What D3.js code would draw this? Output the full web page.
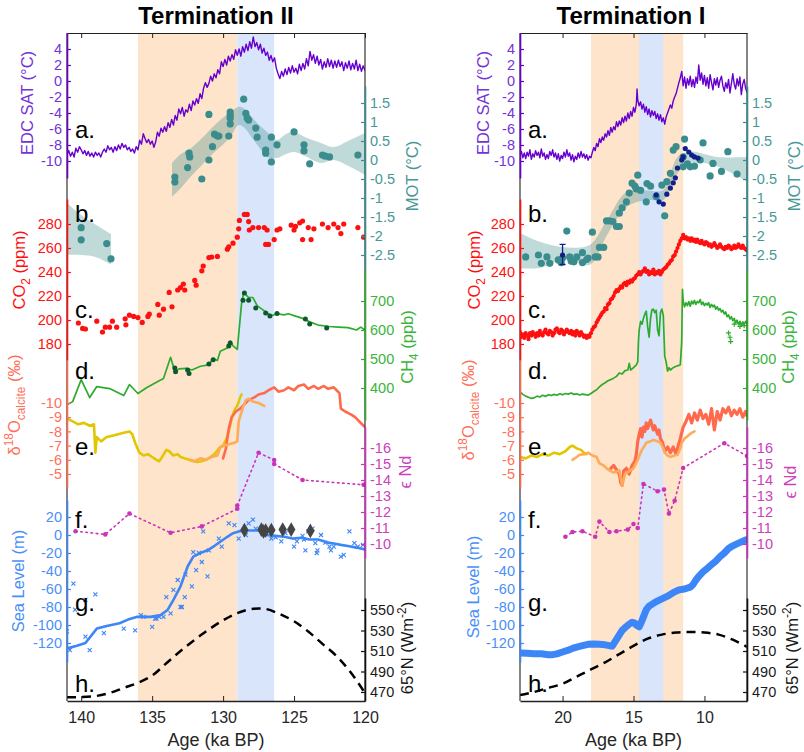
<!DOCTYPE html>
<html>
<head>
<meta charset="utf-8">
<script src="https://cdn.jsdelivr.net/npm/d3@7"></script>
<style>
  html, body { margin: 0; padding: 0; background: #fff; }
  svg { display: block; font-family: "Liberation Sans", Arial, "DejaVu Sans", sans-serif; }
</style>
</head>
<body>
<svg id="chart" width="804" height="752"></svg>
<script>
// ---------------------------------------------------------------
// Data: [age (ka BP), value] unless noted
// ---------------------------------------------------------------
const ageTicksII = [140, 135, 130, 125, 120];
const ageTicksI = [20, 15, 10];

const satTicks = [-10, -8, -6, -4, -2, 0, 2, 4];
const motTicks = [-2.5, -2, -1.5, -1, -0.5, 0, 0.5, 1, 1.5];
const co2Ticks = [180, 200, 220, 240, 260, 280];
const ch4Ticks = [400, 500, 600, 700];
const d18oTicks = [-10, -9, -8, -7, -6, -5];
const endTicks = [-16, -15, -14, -13, -12, -11, -10];
const seaTicks = [-120, -100, -80, -60, -40, -20, 0, 20];
const insTicks = [470, 490, 510, 530, 550];

// shaded intervals [older, younger]
const stadialII = [136, 129];
const warmII = [129, 126.4];
const stadialI = [18, 11.5];
const warmI = [14.6, 12.9];

// a. EDC surface air temperature (°C)
const satII = [[141,-9.2],[140.875,-8.7],[140.75,-9.4],[140.625,-8.9],[140.5,-9.5],[140.375,-8.4],[140.25,-8.9],[140.125,-8.2],[140,-8.6],[139.875,-9.1],[139.75,-8.7],[139.625,-9.3],[139.5,-8.8],[139.375,-9.4],[139.25,-9.0],[139.125,-9.5],[139,-8.9],[138.875,-9.3],[138.75,-9.0],[138.625,-9.5],[138.5,-8.9],[138.375,-8.5],[138.25,-8.9],[138.125,-8.1],[138,-8.6],[137.875,-8.3],[137.75,-8.9],[137.625,-8.2],[137.5,-8.7],[137.375,-8.0],[137.25,-8.5],[137.125,-7.8],[137,-8.3],[136.875,-8.0],[136.75,-8.6],[136.625,-8.3],[136.5,-8.8],[136.375,-8.5],[136.25,-9.0],[136.125,-8.2],[136,-8.6],[135.875,-7.4],[135.75,-7.9],[135.625,-6.6],[135.5,-7.2],[135.375,-7.7],[135.25,-7.3],[135.125,-7.9],[135,-7.5],[134.875,-8.3],[134.75,-7.6],[134.625,-6.4],[134.5,-6.9],[134.375,-5.9],[134.25,-6.4],[134.125,-5.7],[134,-6.3],[133.875,-5.2],[133.75,-5.8],[133.625,-4.8],[133.5,-5.5],[133.375,-4.3],[133.25,-4.9],[133.125,-3.5],[133,-4.1],[132.875,-3.3],[132.75,-4.4],[132.625,-3.6],[132.5,-3.9],[132.375,-2.9],[132.25,-3.7],[132.125,-2.5],[132,-3.0],[131.875,-2.2],[131.75,-2.8],[131.625,-1.6],[131.5,-2.2],[131.375,-0.9],[131.25,-0.2],[131.125,-0.8],[131,-0.3],[130.875,0.6],[130.75,0.0],[130.625,0.9],[130.5,0.4],[130.375,1.4],[130.25,0.9],[130.125,2.4],[130,1.8],[129.875,2.7],[129.75,2.0],[129.625,3.1],[129.5,2.5],[129.375,3.3],[129.25,2.7],[129.125,3.9],[129,3.2],[128.875,4.0],[128.75,3.1],[128.625,4.3],[128.5,3.6],[128.375,4.6],[128.25,3.8],[128.125,4.9],[128,4.1],[127.875,5.5],[127.75,4.3],[127.625,4.8],[127.5,3.9],[127.375,4.6],[127.25,3.5],[127.125,4.1],[127,3.2],[126.875,3.6],[126.75,2.6],[126.625,3.2],[126.5,2.4],[126.375,2.9],[126.25,1.6],[126.125,0.9],[126,0.3],[125.875,1.2],[125.75,0.6],[125.625,1.5],[125.5,0.8],[125.375,1.7],[125.25,1.0],[125.125,1.9],[125,1.1],[124.875,1.6],[124.75,0.9],[124.625,2.1],[124.5,1.3],[124.375,2.2],[124.25,1.5],[124.125,2.8],[124,1.9],[123.875,3.7],[123.75,2.6],[123.625,3.3],[123.5,2.2],[123.375,3.1],[123.25,2.0],[123.125,2.7],[123,1.5],[122.875,2.4],[122.75,1.7],[122.625,2.8],[122.5,1.8],[122.375,2.6],[122.25,1.6],[122.125,2.5],[122,1.7],[121.875,2.6],[121.75,1.8],[121.625,2.4],[121.5,1.3],[121.375,2.3],[121.25,1.6],[121.125,2.5],[121,1.4],[120.875,2.2],[120.75,1.5],[120.625,2.6],[120.5,1.3],[120.375,2.1],[120.25,1.2],[120.125,1.9],[120,1.3]];
const satI = [[23,-9.3],[22.9,-8.8],[22.8,-9.6],[22.7,-9.0],[22.6,-9.7],[22.5,-8.9],[22.4,-9.4],[22.3,-8.6],[22.2,-9.8],[22.1,-9.1],[22,-9.5],[21.9,-8.7],[21.8,-9.3],[21.7,-8.9],[21.6,-9.6],[21.5,-8.5],[21.4,-9.4],[21.3,-9.0],[21.2,-9.8],[21.1,-9.2],[21,-9.7],[20.9,-8.8],[20.8,-9.3],[20.7,-8.6],[20.6,-9.5],[20.5,-9.0],[20.4,-9.8],[20.3,-9.1],[20.2,-10.0],[20.1,-9.3],[20,-9.7],[19.9,-8.9],[19.8,-9.5],[19.7,-8.6],[19.6,-9.4],[19.5,-9.0],[19.4,-9.9],[19.3,-9.2],[19.2,-10.1],[19.1,-9.4],[19,-9.8],[18.9,-9.0],[18.8,-9.6],[18.7,-8.8],[18.6,-9.5],[18.5,-9.1],[18.4,-9.7],[18.3,-9.2],[18.2,-9.9],[18.1,-9.4],[18,-9.6],[17.9,-8.9],[17.8,-8.3],[17.7,-8.7],[17.6,-7.8],[17.5,-8.2],[17.4,-7.2],[17.3,-7.7],[17.2,-7.0],[17.1,-7.4],[17,-6.6],[16.9,-7.0],[16.8,-6.2],[16.7,-6.8],[16.6,-5.8],[16.5,-6.4],[16.4,-5.7],[16.3,-6.1],[16.2,-5.1],[16.1,-5.7],[16,-5.0],[15.9,-5.5],[15.8,-4.6],[15.7,-5.2],[15.6,-4.4],[15.5,-5.0],[15.4,-4.0],[15.3,-4.7],[15.2,-3.8],[15.1,-4.4],[15,-3.3],[14.9,-3.9],[14.8,-2.9],[14.75,-1.0],[14.7,-2.4],[14.6,-3.1],[14.5,-2.6],[14.4,-3.5],[14.3,-2.9],[14.2,-3.9],[14.1,-3.2],[14,-4.2],[13.9,-3.5],[13.8,-4.5],[13.7,-3.7],[13.6,-4.3],[13.5,-3.8],[13.4,-4.7],[13.3,-4.1],[13.2,-4.9],[13.1,-4.2],[13,-5.1],[12.9,-4.6],[12.8,-5.4],[12.7,-4.5],[12.6,-4.0],[12.5,-3.5],[12.4,-3.0],[12.3,-3.4],[12.2,-2.5],[12.1,-2.0],[12,-1.6],[11.9,-0.9],[11.8,-0.2],[11.7,0.4],[11.6,1.2],[11.5,-0.6],[11.4,0.5],[11.3,-0.9],[11.2,0.3],[11.1,-0.5],[11,0.6],[10.9,-0.7],[10.8,0.2],[10.7,-0.8],[10.6,0.5],[10.5,-0.3],[10.4,2.0],[10.3,0.1],[10.2,1.0],[10.1,-0.4],[10,0.7],[9.9,-0.6],[9.8,0.4],[9.7,-0.9],[9.6,0.8],[9.5,-0.2],[9.4,-1.1],[9.3,0.3],[9.2,-0.5],[9.1,0.4],[9,-0.8],[8.9,0.1],[8.8,0.6],[8.7,-0.6],[8.6,-1.3],[8.5,-0.2],[8.4,-0.9],[8.3,0.2],[8.2,-1.5],[8.1,-0.3],[8,0.9],[7.9,-0.4],[7.8,-1.0],[7.7,0.3],[7.6,-0.6],[7.5,0.5],[7.4,-1.7],[7.3,-0.4],[7.2,0.2],[7.1,-0.9],[7,-1.4]];

// b. mean ocean temperature (°C); bands are [age, lower, upper]
const motII = [[140,-1.78],[140,-2.1],[138.2,-2.2],[137.9,-2.6],[133.4,-0.45],[133.4,-0.58],[132.5,-0.2],[132.4,0.18],[132.35,0.08],[131.5,-0.5],[131.0,1.2],[131.0,0.0],[130.75,0.35],[130.6,0.68],[130.4,0.63],[130.3,0.63],[129.6,0.63],[129.5,1.26],[129.5,1.18],[129.5,1.1],[129.5,0.95],[128.55,1.6],[128.4,1.23],[128.3,1.1],[128.2,1.05],[127.7,0.84],[127.6,0.6],[127.0,0.26],[127.0,0.18],[126.6,0.6],[126.6,-0.05],[126.2,0.4],[125.0,0.74],[124.3,0.4],[124.3,0.24],[123.9,-0.1],[123.0,0.13],[122.8,0.1],[122.5,0.08],[120.5,0.13]];
const motBandII_early = [[141,-2.5,-1.13],[140,-2.5,-1.45],[139,-2.55,-1.7],[137.9,-2.75,-1.95]];
const motBandII = [[133.6,-0.97,-0.08],[133,-0.75,0.15],[132.3,-0.45,0.3],[131.6,-0.18,0.53],[130.9,0.1,0.8],[130.2,0.34,1.05],[129.5,0.6,1.25],[128.9,0.92,1.4],[128.5,0.85,1.35],[127.9,0.55,1.1],[127.4,0.3,0.9],[126.9,0.08,0.74],[126.2,0.05,0.53],[125.6,0.15,0.68],[125,0.21,0.74],[124.2,0.1,0.6],[123.1,-0.08,0.45],[122.2,0,0.34],[121.2,-0.15,0.5],[120,-0.39,0.71]];
const motI = [[22.6,-2.55],[21.7,-2.5],[21.5,-2.72],[21.1,-2.55],[20.9,-2.72],[20.3,-2.63],[20.1,-2.7],[20.0,-2.58],[19.7,-1.87],[19.5,-2.55],[19.4,-2.66],[19.2,-2.68],[19.0,-2.55],[18.6,-2.44],[18.6,-2.7],[18.3,-2.62],[18.2,-2.58],[17.9,-1.9],[17.7,-2.55],[17.5,-2.55],[17.4,-2.3],[17.1,-2.3],[16.9,-1.6],[16.7,-1.6],[16.45,-1.62],[16.2,-1.75],[16.0,-1.75],[16.0,-1.4],[15.8,-1.26],[15.5,-1.1],[15.3,-0.87],[15.1,-0.61],[14.9,-0.69],[14.8,-0.76],[14.7,-0.4],[14.5,-0.8],[14.1,-1.1],[14.05,-0.62],[13.8,-0.69],[13.4,-0.96],[13.0,-0.66],[12.8,-1.47],[12.65,-0.57],[12.4,-0.35],[12.2,0.26],[12.0,0.35],[11.5,0.08],[11.5,-0.18],[11.4,0.55],[11.2,-0.1],[11.0,-0.18],[10.7,-0.16],[10.3,0.0],[10.1,0.45],[9.6,-0.42],[9.4,-0.09],[8.8,-0.3],[8.35,0.22],[7.7,-0.37]];
const motNavyI = [[20.0,-2.5],[13.4,-0.92],[13.2,-1.1],[12.9,-1.16],[12.65,-0.9],[12.4,-0.74],[12.2,-0.6],[12.05,-0.47],[11.9,-0.21],[11.6,0.0],[11.5,0.08],[11.35,0.3],[11.1,0.21],[10.9,0.13],[10.7,0.08],[10.45,0.05]];
const motNavyErrI = [[20.0,-2.75,-2.22]];
const motBandI = [[23,-2.85,-1.92],[21.6,-2.84,-2.15],[19.7,-2.6,-2.3],[18.1,-2.76,-2.24],[16.9,-2.0,-1.6],[15.5,-1.24,-0.84],[14.1,-1.05,-0.8],[12.9,-1.05,-0.79],[11.9,-0.35,0.08],[11,-0.08,0.22],[9.1,-0.17,0.08],[7,-0.57,0.08]];

// c. atmospheric CO2 (ppm)
const co2II = [[140.2,197.5],[139.9,193],[139.7,192.5],[138.9,199],[138.5,190],[138.3,194],[138,194],[137.8,199],[137.5,194],[136.9,201],[136.85,196],[136.6,204],[136.3,203],[136,202],[135.7,198],[135.3,203],[135.2,205],[134.6,213],[134.5,204],[134.2,209],[133.8,223],[133.6,211],[133.2,225],[133,227],[132.8,230],[132.7,225],[132.0,233],[131.9,229],[131.5,241],[131.4,245],[131.0,252],[130.8,252.5],[130.4,253],[129.7,259],[129.6,261],[129.3,264],[129.0,269],[128.9,276],[128.85,283],[128.5,288],[128.3,288],[128.2,282],[128.15,275],[127.9,277],[127.5,277],[127.1,277],[126.9,275],[127.0,263],[126.8,263],[126.4,267],[126.2,275],[126.0,276],[125.2,279],[125.0,275],[124.9,278],[124.6,281],[124.4,282.5],[124.4,267],[124.0,277],[123.8,267],[123.6,276],[123.0,280],[122.6,277],[122.2,280],[121.9,277],[121.7,272],[121.5,280],[120.5,277],[120.1,269]];
const co2I = [[23,190],[22.9,186],[22.8,188],[22.7,185],[22.6,189],[22.5,187],[22.4,184],[22.3,189],[22.2,187],[22.1,190],[22,188],[21.9,186],[21.8,189],[21.7,187],[21.6,191],[21.5,188],[21.4,187],[21.3,190],[21.2,192],[21.1,189],[21,188],[20.9,191],[20.8,190],[20.7,187],[20.6,189],[20.5,192],[20.4,193],[20.3,190],[20.2,189],[20.1,192],[20,191],[19.9,188],[19.8,190],[19.7,192],[19.6,190],[19.5,189],[19.4,191],[19.3,188],[19.2,190],[19.1,187],[19,191],[18.9,189],[18.8,187],[18.7,190],[18.6,188],[18.5,186],[18.4,187],[18.3,185],[18.2,187],[18.1,186],[18,189],[17.9,192],[17.8,194],[17.7,195],[17.6,198],[17.5,200],[17.4,202],[17.3,204],[17.2,206],[17.1,207],[17,210],[16.9,209],[16.8,213],[16.7,214],[16.6,217],[16.5,218],[16.4,220],[16.3,223],[16.2,225],[16.1,224],[16,226],[15.9,228],[15.8,227],[15.7,230],[15.6,231],[15.5,229],[15.4,232],[15.3,231],[15.2,233],[15.1,232],[15,234],[14.9,235],[14.8,237],[14.7,238],[14.6,240],[14.5,238],[14.4,240],[14.3,241],[14.2,243],[14.1,240],[14,241],[13.9,238],[13.8,240],[13.7,239],[13.6,242],[13.5,238],[13.4,240],[13.3,239],[13.2,241],[13.1,238],[13,240],[12.9,242],[12.8,243],[12.7,244],[12.6,246],[12.5,247],[12.4,249],[12.3,250],[12.2,253],[12.1,254],[12,257],[11.9,260],[11.8,263],[11.7,266],[11.6,268],[11.5,271],[11.4,268],[11.3,269],[11.2,267],[11.1,268],[11,266],[10.9,268],[10.8,266],[10.7,267],[10.6,265],[10.5,267],[10.4,265],[10.3,264],[10.2,266],[10.1,264],[10,263],[9.9,265],[9.8,264],[9.7,262],[9.6,263],[9.5,261],[9.4,262],[9.3,264],[9.2,262],[9.1,260],[9,261],[8.9,263],[8.8,261],[8.7,260],[8.6,259],[8.5,261],[8.4,260],[8.3,262],[8.2,261],[8.1,259],[8,260],[7.9,262],[7.8,260],[7.7,261],[7.6,263],[7.5,261],[7.4,260],[7.3,262],[7.2,260],[7.1,259],[7,258]];

// d. atmospheric CH4 (ppb)
const ch4II = [[141,342],[140.6,353],[140,429],[139.4,367],[138.9,405],[138,398],[137,374],[136.6,412],[136,381],[135.4,401],[134.6,422],[134.2,433],[133.7,506],[133.4,457],[133.1,466],[132.6,468],[132.2,462],[131.6,475],[131,480],[130.7,502],[130.4,495],[130.2,527],[129.7,538],[129.5,562],[129.3,545],[129,533],[128.7,690],[128.55,729],[128.2,712],[127.9,712],[127.6,684],[127.1,666],[126.6,649],[126.2,656],[125.7,652],[125.4,656],[124.9,648],[124.5,642],[123.9,628],[123.3,617],[122.5,612],[121.9,610],[121.2,608],[120.6,600],[120.3,610],[120,600]];
const ch4DotsII = [[133.4,469],[133.35,456],[132.5,462],[132.4,450],[131.0,483],[130.7,497],[129.6,545],[129.5,555],[128.5,728],[128.6,703],[128.2,703],[127.7,676],[127.0,659],[126.7,648],[126.2,657],[124.2,638],[123.9,621],[122.7,607]];
const ch4I = [[23,387],[22.8,378],[22.6,372],[22.4,368],[22.2,364],[22,366],[21.8,372],[21.6,369],[21.4,375],[21.2,371],[21,377],[20.8,374],[20.6,378],[20.4,375],[20.2,380],[20,377],[19.8,381],[19.6,379],[19.4,383],[19.2,378],[19,380],[18.8,376],[18.6,379],[18.4,377],[18.2,375],[18,381],[17.8,388],[17.6,394],[17.4,404],[17.2,412],[17,418],[16.8,425],[16.6,429],[16.4,434],[16.2,440],[16,452],[15.8,448],[15.6,460],[15.4,462],[15.3,485],[15.2,462],[15,470],[14.8,480],[14.7,490],[14.65,560],[14.6,600],[14.5,630],[14.4,620],[14.3,640],[14.2,655],[14.1,665],[14.0,610],[13.9,575],[13.8,640],[13.7,670],[13.6,672],[13.5,660],[13.4,668],[13.3,600],[13.2,580],[13.1,660],[13.0,672],[12.9,650],[12.8,510],[12.7,490],[12.6,458],[12.5,470],[12.4,462],[12.2,470],[12,475],[11.8,478],[11.7,480],[11.6,560],[11.55,740],[11.5,700],[11.4,680],[11.3,694],[11.2,684],[11.1,698],[11.0,682],[10.9,700],[10.8,690],[10.7,702],[10.6,688],[10.5,699],[10.4,694],[10.3,705],[10.2,688],[10.1,696],[10,684],[9.9,692],[9.8,686],[9.7,694],[9.6,678],[9.5,688],[9.4,680],[9.3,686],[9.2,672],[9.1,680],[9.0,668],[8.9,674],[8.8,662],[8.7,668],[8.6,655],[8.5,662],[8.4,646],[8.3,652],[8.2,638],[8.1,646],[8.0,632],[7.9,640],[7.8,624],[7.7,634],[7.6,618],[7.5,630],[7.4,615],[7.3,628],[7.2,618],[7.1,630],[7.0,622]];
const ch4PlusI = [[8.3,590],[8.2,575],[8.15,560],[7.9,620],[7.5,612],[7.2,615]];

// e. speleothem d18O calcite (permil), three records
const d18oYellowII = [[141,-8.9],[140.6,-8.7],[140.2,-8.5],[139.8,-8.6],[139.4,-8.4],[139.1,-8.5],[139.0,-6.5],[138.9,-7.6],[138.6,-7.3],[138.2,-7.6],[137.8,-7.7],[137.4,-7.8],[137.0,-7.9],[136.6,-8.0],[136.4,-7.8],[136.2,-7.2],[135.9,-6.5],[135.6,-6.3],[135.3,-6.4],[135.0,-6.2],[134.7,-6.0],[134.5,-5.9],[134.3,-6.2],[134.0,-6.7],[133.8,-6.6],[133.5,-6.3],[133.2,-6.4],[133,-6.2],[132.7,-6.1],[132.4,-6.0],[132.1,-5.9],[131.8,-5.85],[131.5,-5.9],[131.2,-6.0],[130.9,-6.2],[130.6,-6.4],[130.3,-6.8],[130.0,-7.0],[129.8,-7.4],[129.6,-8.0],[129.4,-8.9],[129.2,-9.5],[129,-9.8],[128.8,-10.4],[128.7,-10.6]];
const d18oTomatoII = [[130.0,-6.1],[129.8,-6.8],[129.6,-8.2],[129.4,-9.0],[129.1,-9.4],[128.8,-9.6],[128.5,-9.9],[128.2,-10.2],[127.8,-10.4],[127.5,-10.6],[127.1,-10.7],[126.8,-10.9],[126.4,-11.1],[126.1,-10.8],[125.7,-10.9],[125.4,-11.1],[125,-10.9],[124.7,-11.2],[124.3,-11.3],[124,-11.0],[123.6,-11.2],[123.3,-11.0],[122.9,-11.2],[122.6,-11.0],[122.2,-11.1],[122,-10.9],[121.8,-10.7],[121.7,-9.6],[121.4,-9.4],[121,-9.2],[120.7,-9.0],[120.4,-8.7],[120.1,-8.4],[120,-8.3]];
const d18oOrangeII = [[132.3,-6.0],[132,-5.9],[131.6,-6.1],[131.2,-6.0],[130.8,-6.2],[130.4,-6.3],[130.2,-6.9],[129.9,-7.0],[129.6,-7.1],[129.2,-7.2],[129.0,-7.3],[128.9,-8.7],[128.6,-9.7],[128.4,-10.2],[128.2,-10.3],[127.9,-10.1],[127.5,-10.0],[127.1,-9.8]];
const d18oYellowI = [[23,-6.2],[22.6,-6.1],[22.2,-6.3],[21.8,-6.2],[21.4,-6.4],[21.0,-6.3],[20.6,-6.5],[20.2,-6.4],[19.8,-6.6],[19.5,-6.9],[19.3,-7.0],[19.0,-6.8],[18.7,-6.7],[18.5,-6.5],[18.3,-6.4]];
const d18oOrangeI = [[19.3,-6.0],[19.0,-6.2],[18.8,-6.35],[18.4,-6.4],[18.2,-6.5],[17.9,-6.3],[17.6,-6.2],[17.4,-5.75],[17.1,-5.6],[16.9,-5.4],[16.6,-5.2],[16.4,-5.1],[16.0,-5.25],[15.8,-4.2],[15.6,-5.0],[15.3,-5.2],[15.0,-5.4],[14.8,-5.8],[14.7,-6.0],[14.5,-6.5],[14.4,-6.7],[14.1,-7.2],[13.8,-7.3],[13.6,-7.4],[13.3,-7.3],[13.1,-7.2],[12.9,-6.8],[12.8,-6.5],[12.6,-6.3],[12.4,-6.2],[12.1,-6.3],[11.9,-6.35],[11.7,-6.8],[11.6,-7.2],[11.4,-7.5],[11.2,-7.65],[10.9,-7.9],[10.7,-8.0]];
const d18oTomatoI = [[16.6,-5.4],[16.4,-5.6],[16.2,-5.3],[16.0,-5.0],[15.9,-4.4],[15.8,-4.2],[15.7,-5.2],[15.5,-5.4],[15.3,-5.0],[15.1,-5.6],[14.9,-5.9],[14.8,-6.4],[14.7,-7.3],[14.6,-7.8],[14.5,-8.2],[14.4,-7.6],[14.3,-8.3],[14.2,-8.0],[14.1,-8.6],[14.0,-8.2],[13.9,-8.5],[13.8,-8.8],[13.6,-8.1],[13.5,-8.4],[13.3,-7.8],[13.2,-8.1],[13.1,-7.5],[12.95,-7.2],[12.8,-6.6],[12.6,-6.9],[12.4,-6.5],[12.2,-6.9],[12.0,-6.4],[11.9,-6.8],[11.7,-7.5],[11.5,-8.3],[11.3,-8.7],[11.1,-9.2],[10.9,-8.6],[10.7,-9.3],[10.5,-8.8],[10.3,-9.5],[10.1,-8.9],[9.9,-9.2],[9.7,-8.5],[9.5,-9.6],[9.3,-8.1],[9.1,-9.4],[8.9,-8.8],[8.7,-9.6],[8.5,-9.3],[8.3,-9.7],[8.1,-9.1],[7.9,-9.5],[7.7,-9.2],[7.5,-9.6],[7.3,-9.0],[7.1,-9.4],[7,-9.1]];

// f. epsilon Nd
const endII = [[140.4,-10.8],[138.3,-10.6],[136.6,-11.9],[133.7,-10.7],[131.5,-11.1],[129,-12.2],[129,-12.4],[127.5,-15.7],[126.4,-15.25],[126.4,-15.0],[124.4,-14.0],[120.1,-13.7]];
const endI = [[19.8,-10.45],[19.3,-10.75],[18.6,-10.8],[17.7,-10.45],[17.4,-11.4],[16.7,-10.75],[16.2,-10.8],[15.4,-10.9],[15.0,-11.25],[14.7,-11.0],[14.3,-13.75],[13.3,-13.3],[12.85,-13.4],[12.5,-11.9],[12.1,-12.7],[11.5,-14.75],[8.6,-16.3],[7,-15.5]];

// g. relative sea level (m)
const seaLineII = [[141,-126],[140.3,-123],[139.7,-120],[138.9,-104],[138.2,-101],[137.3,-98],[136.7,-94],[136.1,-91],[135.1,-91],[134.4,-89],[133.9,-83],[133.5,-72],[133,-57],[132.5,-35],[132.1,-24],[131.6,-20],[131.1,-17],[130.6,-12],[130.2,-7.5],[129.7,-2],[129.3,2],[128.9,4],[128.5,5],[127.9,5],[127.3,5],[126.9,0],[126.3,-1],[125.7,-2],[125.1,-4],[124.5,-3],[123.9,-5],[123.3,-5],[122.9,-7],[122.6,-8.5],[122.2,-9.5],[121.7,-11],[121.2,-12.3],[120.6,-14],[120,-16]];
const seaPtsII = [[141.0,-107],[140.8,-128],[140.55,-54],[140.43,-83],[139.7,-113],[139.7,-72],[139.4,-128],[139.0,-66],[138.4,-109],[137.0,-104],[136.2,-106],[135.8,-89],[135.6,-91],[135.0,-102],[134.8,-93],[134.7,-93],[134.5,-91],[134.2,-91],[134.0,-69],[133.7,-87],[133.5,-61],[133.2,-50],[133.0,-80],[132.9,-80],[132.7,-69],[132.65,-44],[132.2,-57],[132.1,-19],[131.9,-39],[131.7,-20],[131.5,-30],[131.4,4],[131.1,-46],[131.0,-17],[130.3,-4],[130.1,-13],[129.6,13],[129.2,11],[128.9,-4],[128.4,0],[128.2,13],[127.9,17],[127.7,7],[126.6,-4],[126.3,-2.5],[125.9,-7],[125.6,2],[125.0,-13],[124.8,-7],[124.4,-1],[124.3,-5],[124.2,-17],[124.0,4],[123.7,7],[123.5,-9],[123.4,-20],[123.35,-17],[123.1,0],[122.8,-8.5],[122.5,-13],[122.4,-17],[122.2,-13],[121.7,-24],[121.5,-22],[121.1,4],[120.75,-9],[120.5,-13],[120.15,-11]];
const seaDiamondsII = [[128.5,5.5],[127.3,6],[127.15,4],[127.0,5],[126.6,5.5],[125.8,6],[125.2,6],[123.85,4.5]];
const seaI = [[23,-131],[22.5,-131.5],[22,-132],[21.5,-132],[21,-133],[20.7,-133],[20.4,-132],[20,-130],[19.6,-128],[19.3,-126],[19,-124.5],[18.6,-123],[18.2,-121.5],[17.8,-121],[17.4,-121.5],[17,-122],[16.7,-123],[16.5,-123.5],[16.4,-121],[16.2,-116],[16,-111],[15.8,-106],[15.6,-103],[15.3,-99],[15.1,-97],[14.9,-98],[14.8,-100],[14.6,-102],[14.45,-97],[14.3,-91],[14.1,-83],[13.9,-79],[13.6,-76],[13.4,-74],[13,-71],[12.6,-68],[12.2,-64],[11.8,-61],[11.4,-60],[11,-58],[10.8,-55],[10.6,-50],[10.4,-46],[10.1,-41],[9.8,-37],[9.5,-33],[9.2,-29],[8.9,-24],[8.6,-20],[8.3,-15],[8,-12],[7.6,-9],[7.3,-7],[7,-5]];

// h. 65°N summer insolation (W m-2)
const insII = [[141,465],[140,465],[139,466],[138,469],[137,474],[136,479],[135,486],[134,498],[133,510],[132,521],[131,531],[130,540],[129,547],[128,551],[127,551],[126,546],[125,539],[124,529],[123,517],[122,505],[121,489],[120,469]];
const insI = [[23,467],[22,470],[21,474],[20,478],[19,485],[18,492],[17,499],[16,507],[15,515],[14,522],[13,526],[12,528],[11,528.5],[10,528],[9,526],[8,521],[7,514]];

// ---------------------------------------------------------------
// Layout and styling
// ---------------------------------------------------------------
const TOP = 33, BOTTOM = 701;
const C = {
  peach: "#fde4cb", sky: "#d8e5fb",
  sat: "#6600cc", satText: "#7433d6",
  mot: "#3b8d8d", motText: "#479797", navy: "#10208a",
  co2: "#ff1010",
  ch4: "#2eab2e", ch4Text: "#3bb43b", ch4Dot: "#0c5a2c",
  tomato: "#ff6a4d", d18oText: "#ff6f5a", yellow: "#e2c600", orange: "#ffab57",
  end: "#cc33bb", endText: "#cc40bb",
  sea: "#3d86f7", seaText: "#4a8ff8",
  ink: "#1a1a1a"
};

// each stacked axis: two anchor values -> pixel rows, plus its drawn extent
const AX = {
  sat:  { v: [-10, 4],   y: [161, 49],  ext: [178, 33] },
  mot:  { v: [-2.5, 1.5], y: [255, 103], ext: [270, 86] },
  co2:  { v: [180, 280], y: [344, 224], ext: [360, 199] },
  ch4:  { v: [400, 700], y: [388, 301], ext: [420, 270] },
  d18o: { v: [-10, -5],  y: [403, 474], ext: [360, 488] },
  end:  { v: [-16, -10], y: [448, 544], ext: [427, 558] },
  sea:  { v: [-120, 20], y: [643, 517], ext: [662, 500] },
  ins:  { v: [470, 550], y: [692, 610], ext: [701, 598] }
};
function makeY(k) {
  const a = AX[k];
  const s = d3.scaleLinear().domain(a.v).range(a.y);
  return d3.scaleLinear().domain([s.invert(a.ext[0]), s.invert(a.ext[1])]).range(a.ext);
}
const Y = {};
Object.keys(AX).forEach(k => Y[k] = makeY(k));

const svg = d3.select("#chart");

function rotLabel(g, parts, cx, cy, color, fs) {
  const t = g.append("g")
    .attr("transform", `translate(${cx + 0.36 * fs},${cy}) rotate(-90)`)
    .append("text").attr("text-anchor", "middle").attr("fill", color).attr("font-size", fs);
  parts.forEach(p => {
    const sp = t.append("tspan").text(p.t);
    if (p.sub) sp.attr("font-size", fs * 0.72).attr("dy", fs * 0.3);
    if (p.sup) sp.attr("font-size", fs * 0.72).attr("dy", -fs * 0.42);
    if (p.back) sp.attr("dy", p.back);
  });
}

function yAxis(g, key, ticks, side, xPos, color, textColor) {
  const gen = (side === "left" ? d3.axisLeft(Y[key]) : d3.axisRight(Y[key]))
    .tickValues(ticks).tickSizeInner(-4).tickSizeOuter(0).tickPadding(5)
    .tickFormat(d => String(d));
  const a = g.append("g").attr("transform", `translate(${xPos},0)`).call(gen);
  a.attr("font-family", null).attr("font-size", 14.5);
  a.select(".domain").attr("stroke", color).attr("stroke-width", 1.6);
  a.selectAll(".tick line").attr("stroke", color).attr("stroke-width", 1.2);
  a.selectAll(".tick text").attr("fill", textColor);
  return a;
}

function drawPanel(P) {
  const x = d3.scaleLinear().domain(P.domain).range([P.x0, P.x1]);
  const root = svg.append("g");

  // shaded intervals
  root.append("rect").attr("x", x(P.stadial[0])).attr("y", TOP)
    .attr("width", x(P.stadial[1]) - x(P.stadial[0])).attr("height", BOTTOM - TOP).attr("fill", C.peach);
  root.append("rect").attr("x", x(P.warm[0])).attr("y", TOP)
    .attr("width", x(P.warm[1]) - x(P.warm[0])).attr("height", BOTTOM - TOP).attr("fill", C.sky);

  svg.append("clipPath").attr("id", "clip-" + P.id).append("rect")
    .attr("x", P.x0).attr("y", TOP).attr("width", P.x1 - P.x0).attr("height", BOTTOM - TOP);
  const plot = root.append("g").attr("clip-path", `url(#clip-${P.id})`);

  const line = (data, ys, color, w, curve) => plot.append("path").datum(data)
    .attr("fill", "none").attr("stroke", color).attr("stroke-width", w)
    .attr("stroke-linejoin", "round").attr("stroke-linecap", "round")
    .attr("d", d3.line().x(d => x(d[0])).y(d => ys(d[1])).curve(curve || d3.curveLinear));
  const dots = (data, ys, color, r) => plot.append("g").selectAll("circle").data(data).join("circle")
    .attr("cx", d => x(d[0])).attr("cy", d => ys(d[1])).attr("r", r).attr("fill", color);
  const band = (data, ys) => plot.append("path").datum(data)
    .attr("fill", C.mot).attr("fill-opacity", 0.32)
    .attr("d", d3.area().x(d => x(d[0])).y0(d => ys(d[1])).y1(d => ys(d[2])).curve(d3.curveCatmullRom));

  const S = P.series;
  // a. SAT
  line(S.sat, Y.sat, C.sat, 1.4);
  // b. MOT
  S.motBands.forEach(b => band(b, Y.mot));
  dots(S.mot, Y.mot, C.mot, 3.6);
  if (S.motNavy) {
    S.motNavyErr.forEach(e => {
      const xx = x(e[0]);
      plot.append("path").attr("stroke", C.navy).attr("stroke-width", 1.3).attr("fill", "none")
        .attr("d", `M${xx},${Y.mot(e[1])}V${Y.mot(e[2])}M${xx - 3},${Y.mot(e[1])}H${xx + 3}M${xx - 3},${Y.mot(e[2])}H${xx + 3}`);
    });
    dots(S.motNavy, Y.mot, C.navy, 2.6);
  }
  // c. CO2
  if (S.co2Line) line(S.co2, Y.co2, C.co2, 2.4);
  dots(S.co2, Y.co2, C.co2, S.co2Line ? 2.1 : 2.6);
  // d. CH4
  line(S.ch4, Y.ch4, C.ch4, 1.7);
  if (S.ch4Dots) dots(S.ch4Dots, Y.ch4, C.ch4Dot, 2.5);
  if (S.ch4Plus) plot.append("g").selectAll("path").data(S.ch4Plus).join("path")
    .attr("transform", d => `translate(${x(d[0])},${Y.ch4(d[1])})`)
    .attr("d", "M-2.5,0H2.5M0,-2.5V2.5").attr("stroke", C.ch4).attr("stroke-width", 1.2);
  // e. d18O
  line(S.d18oYellow, Y.d18o, C.yellow, 2.6);
  line(S.d18oTomato, Y.d18o, C.tomato, S.tomatoW);
  line(S.d18oOrange, Y.d18o, C.orange, 2.6);
  // f. eNd
  line(S.end, Y.end, C.end, 1.6).attr("stroke-dasharray", "1.6,3.6");
  dots(S.end, Y.end, C.end, 2.3);
  // g. sea level
  if (S.seaPts) plot.append("g").selectAll("path").data(S.seaPts).join("path")
    .attr("transform", d => `translate(${x(d[0])},${Y.sea(d[1])})`)
    .attr("d", "M-2,-2L2,2M-2,2L2,-2").attr("stroke", C.sea).attr("stroke-width", 1.1);
  line(S.sea, Y.sea, C.sea, S.seaW);
  if (S.seaDiamonds) plot.append("g").selectAll("path").data(S.seaDiamonds).join("path")
    .attr("transform", d => `translate(${x(d[0])},${Y.sea(d[1])})`)
    .attr("d", d3.symbol().type(d3.symbolDiamond).size(62)).attr("fill", "#454545");
  // h. insolation
  line(S.ins, Y.ins, "#000", 2.5, d3.curveCatmullRom).attr("stroke-dasharray", "9,6").attr("stroke-linecap", "butt");

  // frame
  const frame = root.append("g").attr("stroke", "#333").attr("stroke-width", 1.2).attr("fill", "none");
  frame.append("line").attr("x1", P.x0).attr("x2", P.x0).attr("y1", TOP).attr("y2", BOTTOM);
  frame.append("line").attr("x1", P.x1).attr("x2", P.x1).attr("y1", TOP).attr("y2", BOTTOM);

  const top = root.append("g").attr("transform", `translate(0,${TOP})`)
    .call(d3.axisTop(x).tickValues(P.ticks).tickSizeInner(-5).tickSizeOuter(0).tickFormat(() => ""));
  top.select(".domain").attr("stroke", "#222").attr("stroke-width", 1.2);
  top.selectAll(".tick line").attr("stroke", "#222");

  const bot = root.append("g").attr("transform", `translate(0,${BOTTOM})`)
    .call(d3.axisBottom(x).tickValues(P.ticks).tickSizeInner(-5).tickSizeOuter(0).tickPadding(11).tickFormat(d => String(d)));
  bot.attr("font-family", null).attr("font-size", 16);
  bot.select(".domain").attr("stroke", "#222").attr("stroke-width", 1.4);
  bot.selectAll(".tick line").attr("stroke", "#222");
  bot.selectAll(".tick text").attr("fill", "#262626");

  root.append("text").attr("x", (P.x0 + P.x1) / 2).attr("y", 746).attr("text-anchor", "middle")
    .attr("font-size", 18).attr("fill", "#262626").text("Age (ka BP)");

  // stacked y axes
  yAxis(root, "sat", satTicks, "left", P.x0, C.sat, C.satText);
  yAxis(root, "co2", co2Ticks, "left", P.x0, C.co2, C.co2);
  yAxis(root, "d18o", d18oTicks, "left", P.x0, C.tomato, C.d18oText);
  yAxis(root, "sea", seaTicks, "left", P.x0, C.sea, C.seaText);
  let motHolder = root.append("g");
  if (P.clipRight) {
    svg.append("clipPath").attr("id", "clipR-" + P.id).append("rect")
      .attr("x", 0).attr("y", 0).attr("width", P.clipRight).attr("height", 752);
    motHolder.attr("clip-path", `url(#clipR-${P.id})`);
  }
  yAxis(motHolder, "mot", motTicks, "right", P.x1, C.mot, C.motText);
  yAxis(root, "ch4", ch4Ticks, "right", P.x1, C.ch4, C.ch4Text);
  yAxis(root, "end", endTicks, "right", P.x1, C.end, C.endText);
  yAxis(root, "ins", insTicks, "right", P.x1, "#111", "#1a1a1a");

  // axis titles
  const L = P.labels, fs = 16.5;
  rotLabel(root, [{ t: "EDC SAT (°C)" }], L.left[0], 103, C.satText, fs);
  rotLabel(root, [{ t: "CO" }, { t: "2", sub: true }, { t: " (ppm)", back: -fs * 0.3 }], L.left[1], 270, C.co2, fs);
  rotLabel(root, [{ t: "δ" }, { t: "18", sup: true }, { t: "O", back: fs * 0.42 }, { t: "calcite", sub: true }, { t: " (‰)", back: -fs * 0.3 }], L.left[2], L.d18oY, C.d18oText, fs);
  rotLabel(root, [{ t: "Sea Level (m)" }], L.left[3], L.seaY, C.seaText, fs);
  rotLabel(root, [{ t: "MOT (°C)" }], L.right[0], 176, C.motText, fs);
  rotLabel(root, [{ t: "CH" }, { t: "4", sub: true }, { t: " (ppb)", back: -fs * 0.3 }], L.right[1], 347, C.ch4Text, fs);
  rotLabel(root, [{ t: "ϵ Nd" }], L.right[2], L.endY, C.endText, fs);
  rotLabel(root, [{ t: "65°N (Wm" }, { t: "-2", sup: true }, { t: ")", back: fs * 0.42 }], L.right[3], 648, "#1a1a1a", fs);

  // panel letters
  const letters = [["a.", 138], ["b.", 222], ["c.", 318], ["d.", 379], ["e.", 455], ["f.", 528], ["g.", 611], ["h.", 692]];
  root.append("g").selectAll("text").data(letters).join("text")
    .attr("x", P.x0 + 8).attr("y", d => d[1]).attr("font-size", 24).attr("fill", "#000").text(d => d[0]);

  // title
  root.append("text").attr("x", P.titleX).attr("y", 24).attr("text-anchor", "middle")
    .attr("font-size", 24).attr("font-weight", "bold").attr("fill", "#000").text(P.title);
}

drawPanel({
  id: "II", title: "Termination II", titleX: 216,
  domain: [141, 120], x0: 67, x1: 365, ticks: ageTicksII,
  stadial: stadialII, warm: warmII,
  labels: { left: [27, 19, 14, 18], right: [412, 407, 405, 407], d18oY: 405, seaY: 581, endY: 472 },
  series: {
    sat: satII, mot: motII, motBands: [motBandII_early, motBandII],
    co2: co2II, co2Line: false,
    ch4: ch4II, ch4Dots: ch4DotsII,
    d18oYellow: d18oYellowII, d18oTomato: d18oTomatoII, d18oOrange: d18oOrangeII, tomatoW: 2.6,
    end: endII,
    sea: seaLineII, seaPts: seaPtsII, seaDiamonds: seaDiamondsII, seaW: 2.6,
    ins: insII
  }
});

drawPanel({
  id: "I", title: "Termination I", titleX: 631,
  domain: [23, 7], x0: 520, x1: 747, ticks: ageTicksI,
  stadial: stadialI, warm: warmI, clipRight: 777,
  labels: { left: [483, 474, 468, 473], right: [794, 788, 790, 792], d18oY: 410, seaY: 587, endY: 482 },
  series: {
    sat: satI, mot: motI, motBands: [motBandI], motNavy: motNavyI, motNavyErr: motNavyErrI,
    co2: co2I, co2Line: true,
    ch4: ch4I, ch4Plus: ch4PlusI,
    d18oYellow: d18oYellowI, d18oTomato: d18oTomatoI, d18oOrange: d18oOrangeI, tomatoW: 3.2,
    end: endI,
    sea: seaI, seaW: 7,
    ins: insI
  }
});
</script>
</body>
</html>
